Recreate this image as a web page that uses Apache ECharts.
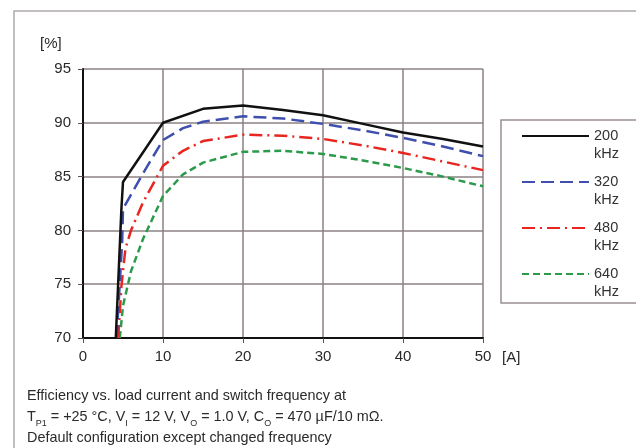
<!DOCTYPE html>
<html>
<head>
<meta charset="utf-8">
<script src="https://cdn.jsdelivr.net/npm/echarts@6/dist/echarts.min.js"></script>
<style>
html,body{margin:0;padding:0;background:#fff;}
#c{width:636px;height:448px;}
</style>
</head>
<body>
<div id="c"></div>
<script>
// Data (x = load current [A], y = efficiency [%])
const seriesNames = ['200\nkHz', '320\nkHz', '480\nkHz', '640\nkHz'];
const f200 = [[4.1,70],[4.8,82],[5,84.5],[10,90],[15,91.3],[20,91.6],[25,91.2],[30,90.7],[35,89.9],[40,89.1],[45,88.5],[50,87.8]];
const f320 = [[4.2,70],[4.9,79],[5,82],[7.5,85.3],[10,88.4],[12.5,89.5],[15,90.1],[20,90.6],[25,90.4],[30,89.9],[35,89.3],[40,88.6],[45,87.8],[50,86.9]];
const f480 = [[4.4,70],[4.8,74.8],[5.3,78.3],[6,80],[7.5,82.6],[10,86],[12.5,87.4],[15,88.3],[20,88.9],[25,88.8],[30,88.5],[35,87.9],[40,87.2],[45,86.4],[50,85.6]];
const f640 = [[4.6,70],[5,73],[6,76.2],[7.5,79.2],[10,83.2],[12.5,85.2],[15,86.3],[20,87.3],[25,87.4],[30,87.1],[35,86.5],[40,85.8],[45,85.0],[50,84.1]];
const xTicks = {min:0, max:50, interval:10};
const yTicks = {min:70, max:95, interval:5};
const captionLines = [
  'Efficiency vs. load current and switch frequency at',
  'T{s|P1} = +25 °C, V{s|I} = 12 V, V{s|O} = 1.0 V, C{s|O} = 470 µF/10 mΩ.',
  'Default configuration except changed frequency'
];

const colors = ['#111111', '#3f4fae', '#e8251f', '#2b9b4b'];
const dashes = ['solid', [13,6], [13,5,2,5], [7,4]];
const dataAll = [f200, f320, f480, f640];

const chart = echarts.init(document.getElementById('c'), null, {renderer:'canvas'});
const font = 'Liberation Sans, Arial, sans-serif';
const gridCol = '#8c8282';

chart.setOption({
  backgroundColor: '#ffffff',
  animation: false,
  textStyle: {fontFamily: font},
  grid: {left: 83, right: 153, top: 69, bottom: 110, show: false},
  xAxis: {
    type: 'value', min: xTicks.min, max: xTicks.max, interval: xTicks.interval,
    axisLine: {show: true, onZero: false, lineStyle: {color: '#111', width: 2}},
    axisTick: {show: true, length: 5, lineStyle: {color: '#555', width: 1}},
    axisLabel: {color: '#2a2a2a', fontSize: 15, margin: 11, fontFamily: font},
    splitLine: {show: true, lineStyle: {color: gridCol, width: 1.5}}
  },
  yAxis: {
    type: 'value', min: yTicks.min, max: yTicks.max, interval: yTicks.interval,
    axisLine: {show: true, lineStyle: {color: '#111', width: 2}},
    axisTick: {show: true, length: 5, lineStyle: {color: '#555', width: 1}},
    axisLabel: {color: '#2a2a2a', fontSize: 15, margin: 12, fontFamily: font},
    splitLine: {show: true, lineStyle: {color: gridCol, width: 1.5}}
  },
  legend: {
    orient: 'vertical', left: 521, top: 109, padding: 0,
    itemWidth: 67, itemHeight: 14, itemGap: -8,
    itemStyle: {opacity: 0},
    formatter: n => '\u00a0\n' + n,
    textStyle: {fontSize: 14.5, color: '#333', lineHeight: 18, fontFamily: font},
    data: seriesNames
  },
  series: seriesNames.map((n, i) => ({
    name: n, type: 'line', data: dataAll[i], symbol: 'none', smooth: false,
    lineStyle: {color: colors[i], width: 2.5, type: dashes[i]},
    itemStyle: {color: colors[i]}, z: 10 - i
  })),
  graphic: [
    {type: 'rect', shape: {x: 14, y: 11, width: 700, height: 500}, style: {fill: 'none', stroke: '#b0aaaa', lineWidth: 1.5}, silent: true},
    {type: 'rect', shape: {x: 501, y: 120, width: 140, height: 183}, style: {fill: 'none', stroke: '#9a9090', lineWidth: 1.5}, silent: true},
    {type: 'text', left: 40, top: 36, style: {text: '[%]', fontSize: 15, fill: '#2a2a2a', fontFamily: font}},
    {type: 'text', left: 502, top: 350, style: {text: '[A]', fontSize: 15, fill: '#2a2a2a', fontFamily: font}},
    {type: 'text', left: 27, top: 386, style: {
      text: captionLines.join('\n'), fontSize: 14.4, lineHeight: 21, fill: '#2a2a2a', fontFamily: font,
      rich: {s: {fontSize: 9, verticalAlign: 'bottom', lineHeight: 21, fill: '#2a2a2a', fontFamily: font, padding: [6,0,0,0]}}
    }}
  ]
});
</script>
</body>
</html>
